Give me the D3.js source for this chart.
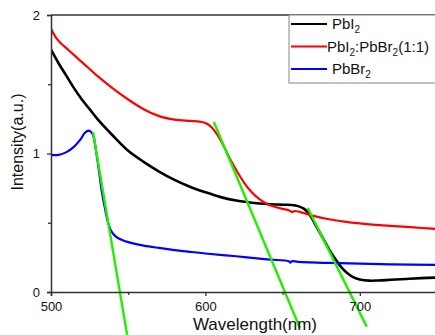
<!DOCTYPE html>
<html>
<head>
<meta charset="utf-8">
<script src="https://cdn.jsdelivr.net/npm/d3@7"></script>
<style>
  body { margin: 0; background: #fff; }
  svg { display: block; font-family: "Liberation Sans", Arial, sans-serif; }
</style>
</head>
<body>
<svg id="chart" width="435" height="335"></svg>
<script>
// spectra
const pbi2Wl  = [500, 505, 510, 515, 520, 525, 530, 540, 550, 560, 570, 580, 590, 600, 610, 620, 630, 640, 650, 656, 660, 664, 668, 672, 676, 680, 684, 688, 692, 696, 700, 706, 712, 720, 730, 740, 750];
const pbi2Int = [1.75, 1.65, 1.56, 1.47, 1.39, 1.32, 1.25, 1.13, 1.02, 0.94, 0.87, 0.81, 0.76, 0.72, 0.685, 0.66, 0.645, 0.635, 0.63, 0.628, 0.62, 0.6, 0.55, 0.47, 0.39, 0.31, 0.24, 0.18, 0.135, 0.105, 0.09, 0.082, 0.083, 0.088, 0.094, 0.1, 0.104];

const mixWl  = [500, 503, 506, 509, 512, 520, 530, 540, 550, 560, 570, 580, 590, 596, 600, 604, 608, 612, 616, 620, 625, 630, 635, 640, 645, 650, 654, 656, 658, 662, 670, 680, 690, 700, 710, 720, 730, 740, 750];
const mixInt = [1.9, 1.84, 1.8, 1.77, 1.74, 1.66, 1.56, 1.47, 1.39, 1.32, 1.27, 1.245, 1.235, 1.23, 1.22, 1.19, 1.13, 1.05, 0.96, 0.88, 0.79, 0.72, 0.67, 0.635, 0.615, 0.6, 0.59, 0.578, 0.585, 0.575, 0.55, 0.525, 0.508, 0.495, 0.485, 0.477, 0.47, 0.462, 0.455];

const pbbr2Wl  = [500, 505, 510, 515, 519, 522, 524.5, 527, 529, 531, 533, 535, 537, 539, 542, 546, 550, 560, 570, 580, 590, 600, 620, 640, 654, 655, 656, 660, 680, 700, 720, 750];
const pbbr2Int = [0.99, 0.99, 1.01, 1.05, 1.1, 1.15, 1.165, 1.14, 1.03, 0.88, 0.72, 0.6, 0.5, 0.44, 0.4, 0.375, 0.36, 0.335, 0.318, 0.303, 0.29, 0.278, 0.258, 0.235, 0.222, 0.212, 0.222, 0.218, 0.21, 0.205, 0.2, 0.195];

// tangent lines: [start, end] as [wavelength, intensity]
const tangents = [
  [[527.2, 1.155], [549.3, -0.31]],
  [[605.5, 1.227], [661.2, -0.26]],
  [[666.3, 0.606], [704.5, -0.25]]
];

const xMajor = [500, 600, 700];
const xMinor = [550, 650];
const yMajor = [0, 1, 2];
const yMinor = [0.5, 1.5];

const series = [
  { name: ["PbI", "2"], wl: pbi2Wl, v: pbi2Int, color: "#000000" },
  { name: ["PbI", "2", ":PbBr", "2", "(1:1)"], wl: mixWl, v: mixInt, color: "#ff0000" },
  { name: ["PbBr", "2"], wl: pbbr2Wl, v: pbbr2Int, color: "#0000ff" }
];

const svg = d3.select("#chart");
const plotL = 51, plotR = 437, plotT = 15, plotB = 292;

const x = d3.scaleLinear().domain([500, 750]).range([plotL, plotR]);
const y = d3.scaleLinear().domain([0, 2]).range([plotB, plotT]);

// top frame
svg.append("line")
  .attr("x1", plotL).attr("x2", 435).attr("y1", plotT).attr("y2", plotT)
  .attr("stroke", "#333").attr("stroke-width", 1.5);

const line = d3.line()
  .x(d => x(d[0]))
  .y(d => y(d[1]))
  .curve(d3.curveCatmullRom);

svg.append("clipPath").attr("id", "plot")
  .append("rect").attr("x", plotL).attr("y", plotT).attr("width", plotR - plotL).attr("height", plotB - plotT);

const curves = svg.append("g").attr("clip-path", "url(#plot)");
series.forEach(s => {
  curves.append("path")
    .datum(s.wl.map((w, i) => [w, s.v[i]]))
    .attr("d", line)
    .attr("fill", "none")
    .attr("stroke", s.color)
    .attr("stroke-width", s.color === "#000000" ? 2.6 : 2.2);
});

// green tangents run past the axis
svg.selectAll(".tan")
  .data(tangents)
  .enter().append("path")
  .attr("d", d3.line().x(d => x(d[0])).y(d => y(d[1])))
  .attr("stroke", "#22ee00")
  .attr("stroke-width", 2.4)
  .attr("fill", "none");

// axes
svg.append("g").attr("transform", `translate(0,${plotB})`)
  .call(d3.axisBottom(x).tickValues(xMajor).tickSize(4).tickPadding(6).tickFormat(d3.format("d")));
svg.append("g").attr("transform", `translate(0,${plotB})`)
  .call(d3.axisBottom(x).tickValues(xMinor).tickSize(3).tickFormat(""))
  .select(".domain").remove();

svg.append("g").attr("transform", `translate(${plotL},0)`)
  .call(d3.axisLeft(y).tickValues(yMajor).tickSize(4).tickPadding(7).tickFormat(d3.format("d")));
svg.append("g").attr("transform", `translate(${plotL},0)`)
  .call(d3.axisLeft(y).tickValues(yMinor).tickSize(3).tickFormat(""))
  .select(".domain").remove();

svg.selectAll(".domain").attr("stroke", "#333").attr("stroke-width", 1.5);
svg.selectAll(".tick line").attr("stroke", "#333").attr("stroke-width", 1.3);
svg.selectAll(".tick text").attr("font-size", 13).attr("fill", "#111")
  .attr("font-family", "'Liberation Sans', Arial, sans-serif");

// axis titles
svg.append("text")
  .attr("x", 255).attr("y", 330)
  .attr("text-anchor", "middle")
  .attr("font-size", 17)
  .attr("fill", "#111")
  .text("Wavelength(nm)");

svg.append("text")
  .attr("transform", "translate(23,142) rotate(-90)")
  .attr("text-anchor", "middle")
  .attr("font-size", 16)
  .attr("fill", "#111")
  .text("Intensity(a.u.)");

// legend
const legend = svg.append("g");
legend.append("rect")
  .attr("x", 289).attr("y", plotT).attr("width", 160).attr("height", 68)
  .attr("fill", "#fff").attr("stroke", "#888").attr("stroke-width", 1);

series.forEach((s, i) => {
  const ly = 24 + i * 22.5;
  legend.append("line")
    .attr("x1", 291).attr("x2", 327).attr("y1", ly).attr("y2", ly)
    .attr("stroke", s.color).attr("stroke-width", 2.2);
  const t = legend.append("text")
    .attr("x", i === 1 ? 327 : 332).attr("y", ly + 5)
    .attr("font-size", 15).attr("fill", "#111");
  s.name.forEach((part, j) => {
    const sub = j % 2 === 1;
    t.append("tspan")
      .attr("dy", sub ? 4 : (j > 0 ? -4 : 0))
      .attr("font-size", sub ? 10 : 15)
      .text(part);
  });
});
</script>
</body>
</html>
